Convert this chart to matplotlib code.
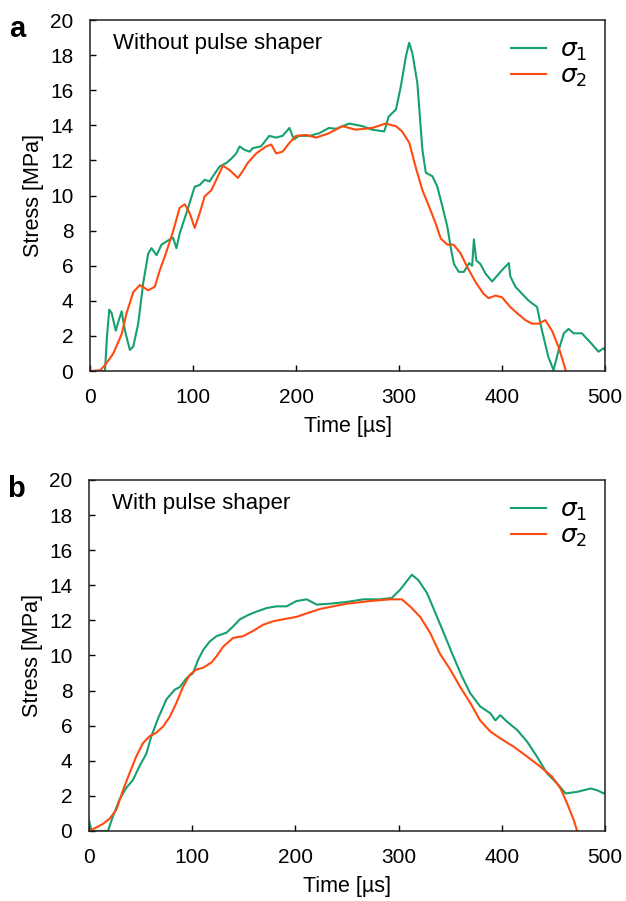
import matplotlib.pyplot as plt

plt.rcParams['font.family'] = ['Liberation Sans', 'DejaVu Sans']

# --- Panel a: without pulse shaper ---
t1_a = [0, 10, 14.5, 16.5, 18.7, 21, 25, 28, 30.7, 33.9, 38.7, 42, 46.8, 51.6, 56.5, 59.7, 64.6,
        69.4, 77.4, 80.6, 83.9, 87.1, 93.6, 101.6, 106.5, 111.3, 116, 119.4, 125.8, 132.3, 137.2,
        142, 145.2, 150, 155, 158, 166, 174, 180.6, 187, 193.6, 198, 203, 213, 222.6, 232, 239,
        245, 251.7, 264.6, 274, 285.6, 290, 297, 301.7, 306.6, 309.8, 313, 317.8, 322.7, 326,
        332.4, 337.2, 342, 347, 350, 353.3, 358, 363, 368, 371, 372.7, 375, 379, 384, 390.4, 397,
        401.6, 406.6, 408, 413, 419.5, 426, 434, 438.8, 445, 450, 455, 460, 464.6, 469.5, 477.5,
        487, 493.7, 498.5, 500]
s1_a = [0, 0, 0, 2.0, 3.5, 3.3, 2.3, 2.9, 3.4, 2.3, 1.2, 1.4, 2.7, 5.0, 6.7, 7.0, 6.6,
        7.2, 7.5, 7.6, 7.0, 7.85, 9.0, 10.5, 10.6, 10.9, 10.8, 11.1, 11.65, 11.85, 12.1,
        12.4, 12.8, 12.6, 12.5, 12.7, 12.8, 13.4, 13.3, 13.4, 13.85, 13.2, 13.4, 13.4, 13.55, 13.85, 13.8,
        13.95, 14.1, 13.95, 13.75, 13.65, 14.5, 14.9, 16.2, 17.9, 18.7, 18.1, 16.4, 12.6, 11.3,
        11.1, 10.5, 9.4, 8.2, 7.1, 6.1, 5.65, 5.65, 6.15, 6.0, 7.5, 6.3, 6.1, 5.55, 5.1, 5.55,
        5.85, 6.15, 5.4, 4.8, 4.4, 4.0, 3.65, 2.3, 0.8, 0.05, 1.2, 2.15, 2.4, 2.15, 2.15,
        1.55, 1.1, 1.3, 1.2]

t2_a = [0, 9.7, 14.5, 22.6, 30.7, 35.5, 42, 48.4, 56.5, 62.9, 67.8, 74.2, 80.6, 87, 92, 96.8,
        101.6, 106.5, 111.3, 117.8, 122.6, 129, 135.5, 143.6, 148.4, 153, 161.4, 171, 176,
        180.7, 187, 193.6, 200, 209.8, 219.5, 232, 245, 258, 274, 287, 297, 303, 310, 316,
        322.7, 329, 335.6, 340.5, 347, 353, 359.8, 366, 374, 382, 387, 393.6, 400, 408, 414.6,
        422.7, 429, 435.6, 442, 448.5, 455, 460, 462]
s2_a = [0, 0.04, 0.33, 1.0, 2.1, 3.3, 4.5, 4.9, 4.6, 4.8, 5.75, 6.8, 7.95, 9.3, 9.5, 9.0,
        8.15, 9.0, 9.95, 10.3, 10.9, 11.7, 11.45, 11.0, 11.4, 11.85, 12.4, 12.8, 12.9,
        12.4, 12.5, 13.0, 13.4, 13.45, 13.3, 13.55, 13.95, 13.75, 13.85, 14.1, 13.95, 13.65, 13.0, 11.65,
        10.3, 9.4, 8.4, 7.55, 7.2, 7.2, 6.7, 5.95, 5.1, 4.4, 4.15, 4.3, 4.2, 3.65, 3.3,
        2.9, 2.7, 2.7, 2.9, 2.3, 1.35, 0.4, 0]

# --- Panel b: with pulse shaper ---
t1_b = [0, 2.1, 5, 18.3, 23, 29.6, 36, 42.5, 49, 55.5, 60.4, 66.8, 75, 83, 87.9, 94.4, 100.8,
        105.7, 110.5, 117, 123.5, 133.2, 139.6, 146, 154, 162.3, 172, 181.7, 191.5, 201, 210.9,
        220.6, 233.5, 249.7, 266, 282, 293.4, 301.5, 312.8, 319, 327.4, 337, 345, 353, 361.4,
        369.4, 379, 389, 393.7, 398.5, 405, 414.8, 424.5, 434, 443.9, 453.6, 461.7, 473, 486,
        492, 498.8, 500]
s1_b = [0.6, 0.1, 0, 0, 0.8, 1.8, 2.45, 2.9, 3.7, 4.4, 5.4, 6.4, 7.5, 8.05, 8.2, 8.7, 9.0,
        9.75, 10.3, 10.8, 11.1, 11.3, 11.65, 12.05, 12.3, 12.5, 12.7, 12.8, 12.8, 13.1, 13.2,
        12.9, 12.95, 13.05, 13.2, 13.2, 13.28, 13.75, 14.6, 14.3, 13.57, 12.23, 11.1, 9.95, 8.8,
        7.85, 7.1, 6.7, 6.3, 6.6, 6.23, 5.76, 5.09, 4.24, 3.28, 2.71, 2.14, 2.23, 2.42,
        2.33, 2.14, 2.2]

t2_b = [0, 7, 13.4, 19.9, 26.4, 32.8, 39.3, 45.8, 52.2, 58.7, 65.2, 71.7, 78.2, 84.7, 91,
        97.6, 104, 110.5, 118.6, 123.5, 130, 139.6, 149.3, 159, 168.7, 178.4, 191.5, 201.2,
        210.9, 223.8, 236.7, 249.7, 272.3, 291.7, 303, 311, 320.9, 330.6, 340, 350, 359.7,
        369.4, 379, 389, 398.5, 411.5, 424.5, 437.4, 448.7, 456.8, 463.3, 469.7, 473]
s2_b = [0, 0.2, 0.4, 0.7, 1.2, 2.3, 3.3, 4.25, 5.0, 5.4, 5.6, 5.95, 6.5, 7.3, 8.2,
        8.9, 9.2, 9.3, 9.6, 9.95, 10.5, 11.0, 11.1, 11.4, 11.75, 11.95, 12.1, 12.2,
        12.4, 12.65, 12.8, 12.95, 13.1, 13.2, 13.2, 12.8, 12.2, 11.28, 10.1, 9.2, 8.2,
        7.3, 6.3, 5.66, 5.28, 4.8, 4.24, 3.66, 3.09, 2.43, 1.57, 0.62, 0]

green = '#17a06f'
red = '#ff4a10'

fig = plt.figure(figsize=(6.26, 9.01), dpi=100)
ax_a = fig.add_axes([0.1438, 0.5882, 0.8227, 0.3896])
ax_b = fig.add_axes([0.1422, 0.0777, 0.8243, 0.3896])

panels = [(ax_a, t1_a, s1_a, t2_a, s2_a, 'Without pulse shaper', 'a'),
          (ax_b, t1_b, s1_b, t2_b, s2_b, 'With pulse shaper', 'b')]

for ax, t1, s1, t2, s2, title, letter in panels:
    ax.plot(t1, s1, color=green, lw=1.5, label=r'$\sigma_1$')
    ax.plot(t2, s2, color=red, lw=1.5, label=r'$\sigma_2$')
    ax.set_xlim(0, 500)
    ax.set_ylim(0, 20)
    ax.set_xticks([0, 100, 200, 300, 400, 500])
    ax.set_yticks(range(0, 21, 2))
    ax.tick_params(direction='in', labelsize=15, length=4, width=1, pad=12)
    for sp in ax.spines.values():
        sp.set_linewidth(1.1)
        sp.set_color('#222222')
    ax.set_xlabel('Time [µs]', fontsize=15.5, labelpad=7)
    ax.set_ylabel('Stress [MPa]', fontsize=15.5, labelpad=4)
    ax.text(0.045, 0.932, title, transform=ax.transAxes, fontsize=16, va='center')
    ax.text(-0.158, 0.975, letter, transform=ax.transAxes, fontsize=21, fontweight='bold',
            va='center', ha='left')
    ax.legend(loc='upper right', frameon=False, fontsize=18, handlelength=1.4,
              handletextpad=0.55, labelspacing=0.05, borderaxespad=0.3)

plt.savefig('out.png', dpi=100)
